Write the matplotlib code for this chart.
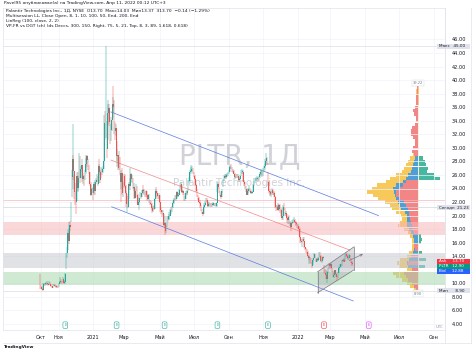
import numpy as np
import pandas as pd
import matplotlib.pyplot as plt
from matplotlib.patches import Polygon, Rectangle

W, H = 474, 351

# PLTR daily, 30 Sep 2020 .. 8 Apr 2022 (open = previous close)
first_open = 10.00
closes = [9.50,
          9.46, 9.20, 9.03, 9.90, 9.69, 9.93, 10.00, 10.02, 9.85, 9.72, 10.11, 9.88, 9.60, 9.55, 9.33, 9.76, 9.77, 9.57, 9.58, 9.42, 9.50, 9.44,
          9.94, 10.14, 10.42, 10.28, 10.11, 10.62, 10.00, 10.15, 11.39, 14.10, 14.50, 17.40, 16.25, 18.67, 18.36, 21.59, 25.67, 28.40, 26.54, 23.45,
          23.21, 22.07, 25.85, 24.05, 25.56, 28.00, 25.51, 26.87, 27.51, 25.38, 25.82, 24.87, 26.40, 27.63, 28.81, 28.25, 27.20, 26.40, 24.71, 23.00, 23.92, 23.55,
          23.37, 24.60, 23.60, 25.00, 25.20, 25.60, 24.60, 27.30, 26.40, 25.20, 26.70, 26.40, 26.90, 28.00, 33.60, 32.30, 39.00, 29.90, 35.20,
          35.90, 33.80, 30.90, 32.60, 34.10, 36.40, 36.10, 33.20, 32.50, 32.90, 28.80, 29.00, 27.00, 29.00, 26.30, 25.00, 26.30, 23.30, 23.90,
          25.90, 24.40, 23.40, 21.70, 22.50, 21.30, 24.60, 24.30, 26.10, 25.40, 25.50, 24.10, 24.20, 22.60, 23.70, 24.30, 23.00, 21.60, 22.00, 22.60, 23.20, 22.80, 23.30,
          23.80, 23.70, 23.60, 22.90, 23.60, 23.00, 22.40, 23.00, 21.90, 21.90, 21.70, 21.10, 20.70, 21.20, 21.00, 22.40, 23.70, 23.40, 22.90, 22.60, 23.00,
          22.00, 20.90, 20.60, 20.40, 20.40, 18.60, 18.90, 17.80, 18.10, 19.80, 19.50, 19.90, 20.00, 20.80, 20.50, 21.20, 21.80, 22.30, 22.30, 22.80,
          22.50, 23.50, 22.90, 23.10, 23.80, 24.00, 24.60, 23.50, 23.60, 23.30, 22.30, 22.50, 23.40, 23.30, 23.60, 25.00, 25.10, 26.40, 26.60, 26.90, 26.90, 26.40,
          25.90, 25.40, 24.50, 23.70, 23.50, 22.60, 22.00, 21.80, 21.40, 20.80, 20.50, 20.30, 21.30, 21.60, 21.90, 22.40, 22.30, 21.40, 21.70, 21.70, 21.60,
          21.50, 21.60, 21.60, 21.80, 21.60, 21.80, 21.40, 21.80, 24.70, 24.20, 23.60, 23.10, 22.70, 23.60, 23.70, 25.20, 25.60, 25.80, 25.70, 26.00, 26.00, 26.30,
          26.50, 27.10, 27.20, 27.10, 26.60, 26.60, 26.20, 25.70, 25.70, 26.00, 25.80, 25.90, 25.20, 25.40, 25.90, 26.50, 26.50, 26.50, 25.00, 24.60, 24.00,
          24.00, 23.10, 23.60, 23.90, 24.00, 23.60, 23.40, 23.40, 23.50, 24.50, 24.90, 25.40, 25.40, 25.40, 25.60, 25.20, 25.70, 26.10, 26.40, 26.50, 25.90,
          26.80, 27.00, 27.30, 28.00, 28.50, 27.80, 25.00, 23.70, 23.50, 23.20, 23.20, 23.80, 23.30, 23.40, 22.80, 21.30, 21.20, 21.30, 20.90, 21.60, 21.00,
          20.50, 20.90, 19.60, 20.00, 21.30, 21.20, 20.20, 20.40, 19.60, 19.30, 19.80, 18.90, 18.90, 18.30, 18.90, 19.00, 19.20, 19.40, 19.00, 18.90, 18.70, 18.20,
          18.50, 18.00, 16.80, 16.30, 16.10, 16.40, 16.60, 16.30, 15.30, 15.10, 14.70, 14.60, 14.00, 13.80, 13.90, 13.20, 13.10, 12.60, 13.40, 13.70,
          14.40, 13.80, 13.20, 13.60, 13.40, 13.80, 14.50, 14.00, 13.30, 13.30, 13.90, 13.80, 11.90, 11.60, 11.30, 10.70, 11.70, 12.20, 12.80,
          12.50, 12.80, 12.20, 11.80, 11.00, 11.20, 11.90, 11.40, 11.00, 10.60, 11.60, 12.20, 12.40, 12.80, 12.50, 13.40, 13.30, 13.50, 13.20, 14.20, 14.40, 14.10, 13.70,
          13.80, 14.20, 13.60, 13.10, 13.00, 12.90]
highs = [11.41,
         9.80, 9.55, 9.35, 10.10, 10.05, 10.10, 10.25, 10.30, 10.10, 9.98, 10.30, 10.15, 9.95, 9.80, 9.60, 9.90, 9.95, 9.85, 9.75, 9.70, 9.65, 9.70,
         10.00, 10.40, 10.95, 10.60, 10.40, 11.00, 10.50, 10.30, 11.60, 14.50, 15.40, 18.00, 17.70, 19.00, 19.20, 22.00, 26.70, 33.50, 29.00, 26.00,
         24.80, 23.60, 26.50, 26.40, 25.80, 29.20, 28.80, 27.30, 28.40, 27.30, 26.30, 26.00, 26.80, 28.50, 29.00, 29.00, 28.30, 27.50, 26.50, 24.90, 24.50, 24.10,
         24.20, 24.90, 25.00, 25.30, 25.60, 26.20, 25.80, 27.60, 28.30, 26.70, 27.10, 27.00, 27.30, 28.50, 34.80, 35.50, 45.00, 34.00, 36.50,
         37.00, 36.50, 34.50, 33.50, 34.50, 37.50, 39.10, 37.00, 33.80, 33.50, 31.00, 29.80, 29.00, 29.50, 28.60, 25.80, 26.80, 27.00, 25.00,
         26.10, 26.20, 24.50, 23.60, 22.90, 23.20, 25.00, 25.60, 27.00, 26.30, 26.00, 25.60, 24.80, 24.10, 24.00, 24.70, 24.40, 23.20, 22.30, 22.80, 23.50, 23.30, 23.80,
         24.00, 24.50, 24.00, 23.70, 23.80, 23.70, 23.00, 23.20, 23.20, 22.30, 22.20, 21.80, 21.30, 21.40, 21.50, 22.60, 24.00, 24.20, 23.60, 23.00, 23.30,
         23.10, 22.00, 21.30, 20.80, 20.90, 20.20, 20.00, 18.90, 18.60, 19.90, 19.90, 20.50, 20.30, 21.00, 21.20, 21.40, 22.10, 22.50, 22.60, 23.10,
         23.10, 23.70, 23.40, 23.30, 24.00, 24.50, 24.90, 24.40, 23.90, 23.80, 23.30, 22.90, 23.60, 23.70, 23.80, 25.20, 25.70, 26.80, 27.20, 27.50, 27.30, 27.00,
         26.40, 26.00, 25.50, 24.60, 23.90, 23.00, 22.70, 22.30, 22.00, 21.50, 21.00, 20.60, 21.50, 21.80, 22.10, 22.60, 22.60, 22.20, 21.90, 22.00, 21.80,
         21.90, 21.80, 21.80, 22.00, 21.90, 21.90, 21.90, 22.00, 25.10, 24.90, 24.20, 23.60, 23.30, 23.70, 24.00, 25.40, 26.00, 26.10, 26.20, 26.20, 26.30, 26.50,
         26.80, 27.30, 27.50, 27.60, 27.20, 26.90, 26.80, 26.30, 25.90, 26.20, 26.20, 26.10, 25.60, 25.70, 26.00, 26.70, 26.90, 26.80, 26.40, 25.30, 24.90,
         24.30, 24.00, 23.90, 24.10, 24.30, 24.10, 23.80, 23.70, 23.70, 24.60, 25.10, 25.60, 25.70, 25.60, 25.90, 25.70, 25.90, 26.40, 26.70, 26.90, 26.60,
         27.00, 27.30, 27.60, 28.30, 29.30, 28.60, 26.50, 25.10, 24.00, 23.70, 23.60, 24.10, 23.90, 23.70, 23.50, 22.90, 21.60, 21.50, 21.40, 21.90, 21.70,
         21.70, 21.00, 21.10, 20.30, 21.50, 21.80, 21.10, 20.70, 20.30, 19.70, 19.90, 20.10, 19.20, 18.80, 19.00, 19.40, 19.50, 19.80, 19.50, 19.20, 19.00, 18.80,
         18.70, 18.50, 18.10, 16.90, 16.50, 16.50, 16.80, 16.90, 16.30, 15.40, 15.20, 15.00, 14.80, 14.20, 14.10, 13.90, 13.80, 13.20, 13.50, 13.80,
         14.50, 14.40, 13.70, 13.80, 13.70, 13.90, 14.60, 14.60, 14.20, 13.50, 13.90, 14.00, 12.70, 12.10, 11.90, 11.40, 11.80, 12.30, 13.00,
         12.90, 13.00, 12.90, 12.30, 11.80, 11.50, 12.00, 11.90, 11.50, 11.10, 11.70, 12.30, 12.60, 12.90, 12.90, 13.50, 13.60, 13.80, 13.60, 14.30, 14.60, 14.50, 14.20,
         13.90, 14.30, 14.20, 13.70, 13.30, 13.10]
lows = [9.11,
        9.20, 8.95, 8.90, 9.05, 9.55, 9.60, 9.80, 9.85, 9.70, 9.60, 9.70, 9.80, 9.55, 9.40, 9.25, 9.35, 9.60, 9.50, 9.40, 9.35, 9.30, 9.30,
        9.50, 9.90, 10.10, 10.10, 9.90, 10.20, 9.90, 9.95, 10.20, 12.10, 13.70, 14.90, 15.80, 16.60, 17.80, 19.10, 22.70, 24.00, 25.20, 22.50,
        21.60, 20.20, 22.10, 23.50, 23.60, 25.50, 24.80, 25.50, 26.40, 25.00, 24.60, 24.40, 25.20, 26.20, 26.50, 27.20, 26.80, 26.20, 24.30, 22.90, 23.10, 23.30,
        22.30, 23.10, 23.00, 23.80, 24.60, 25.00, 24.30, 24.80, 26.00, 24.80, 25.50, 26.00, 26.30, 26.90, 28.50, 31.10, 31.50, 28.50, 31.20,
        33.50, 33.20, 30.50, 31.00, 32.50, 34.40, 35.10, 32.00, 31.20, 31.80, 28.00, 27.20, 26.80, 26.80, 26.00, 22.00, 23.90, 23.10, 22.70,
        24.10, 24.20, 23.20, 21.30, 20.50, 21.10, 22.50, 23.80, 24.70, 25.00, 24.80, 24.00, 23.60, 22.40, 22.50, 23.60, 22.80, 21.50, 20.90, 21.90, 22.80, 22.50, 22.70,
        23.20, 23.40, 23.00, 22.70, 22.80, 22.80, 22.20, 22.30, 21.80, 21.50, 21.50, 20.90, 20.40, 20.60, 20.90, 21.00, 22.40, 23.20, 22.80, 22.40, 22.50,
        21.90, 20.60, 20.30, 19.80, 20.10, 18.50, 18.10, 17.10, 17.50, 18.30, 19.10, 19.30, 19.40, 20.00, 20.30, 20.60, 21.10, 21.70, 22.00, 22.30,
        22.20, 22.50, 22.70, 22.80, 23.10, 23.60, 24.00, 23.40, 23.30, 23.10, 22.20, 22.10, 22.50, 23.00, 23.10, 23.60, 24.80, 25.00, 26.10, 26.40, 26.50, 26.20,
        25.70, 25.20, 24.30, 23.50, 22.80, 22.30, 21.90, 21.70, 21.10, 20.70, 20.30, 19.90, 20.20, 21.10, 21.40, 21.80, 22.00, 21.20, 21.20, 21.40, 21.30,
        21.30, 21.30, 21.40, 21.50, 21.40, 21.40, 21.20, 21.30, 23.50, 23.90, 23.40, 22.90, 22.50, 22.80, 23.40, 24.20, 25.10, 25.40, 25.40, 25.60, 25.70, 25.90,
        26.10, 26.50, 26.90, 26.90, 26.40, 26.30, 26.10, 25.60, 25.40, 25.50, 25.60, 25.60, 24.90, 25.00, 25.30, 25.80, 26.20, 26.10, 24.90, 24.40, 23.90,
        23.50, 23.00, 23.00, 23.30, 23.70, 23.50, 23.20, 23.20, 23.30, 23.70, 24.40, 24.80, 25.10, 25.10, 25.30, 25.00, 25.20, 25.60, 25.90, 26.00, 25.70,
        25.80, 26.40, 26.70, 27.20, 27.80, 27.40, 24.30, 23.40, 23.00, 22.90, 22.80, 23.10, 23.10, 23.00, 22.70, 21.10, 20.70, 20.90, 20.70, 20.80, 20.70,
        20.40, 19.90, 19.30, 19.30, 20.30, 20.80, 20.00, 19.90, 19.50, 18.90, 18.80, 18.80, 18.50, 17.80, 18.50, 18.70, 18.90, 18.90, 18.90, 18.60, 18.50, 18.10,
        18.00, 17.90, 16.70, 16.00, 15.90, 15.40, 16.10, 16.20, 15.20, 14.90, 14.50, 14.40, 13.90, 13.50, 12.80, 13.00, 12.90, 12.30, 12.70, 13.10,
        13.70, 13.70, 13.10, 13.10, 13.30, 13.30, 13.80, 13.90, 13.20, 13.00, 13.30, 13.50, 11.50, 11.40, 11.20, 10.60, 10.10, 11.60, 12.10,
        12.20, 12.40, 12.10, 11.70, 11.00, 10.80, 11.40, 11.30, 10.90, 10.40, 10.80, 11.60, 12.00, 12.20, 12.40, 12.60, 13.10, 13.20, 13.10, 13.30, 13.90, 13.80, 13.60,
        13.40, 13.70, 13.50, 13.00, 12.70, 12.60]

holidays = ['2020-11-26', '2020-12-25', '2021-01-01', '2021-01-18', '2021-02-15', '2021-04-02',
            '2021-05-31', '2021-07-05', '2021-09-06', '2021-11-25', '2021-12-24', '2022-01-17',
            '2022-02-21', '2022-04-15', '2022-05-30', '2022-06-20', '2022-07-04', '2022-09-05']

# time axis labels (first trading day of the month)
month_ticks = ['2020-10', '2020-11', '2021-01', '2021-03', '2021-05', '2021-07', '2021-09', '2021-11',
               '2022-01', '2022-03', '2022-05', '2022-07', '2022-09']
month_labels = ['Окт', 'Ноя', '2021', 'Мар', 'Май', 'Июл', 'Сен', 'Ноя', '2022', 'Мар', 'Май', 'Июл', 'Сен']

# earnings dates
earn_dates = ['2020-11-12', '2021-02-16', '2021-05-11', '2021-08-12', '2021-11-09', '2022-02-17', '2022-05-09']
earn_colors = ['#26a69a'] * 5 + ['#f23645', '#e040fb']

# zones (price bands)
zones = [(17.1, 19.0, '#f7b7b8'), (12.3, 14.5, '#c9cbd1'), (9.7, 11.7, '#a8d8ad')]

# trend channel (date, price)
chan_upper = [('2021-02-04', 35.3), ('2022-05-25', 20.0)]
chan_mid = [('2021-02-04', 28.2), ('2022-04-05', 14.9)]
chan_lower = [('2021-02-05', 21.3), ('2022-04-11', 7.4)]
# small rising channel
small_upper = [('2022-02-07', 11.7), ('2022-04-12', 15.4)]
small_lower = [('2022-02-07', 8.6), ('2022-04-12', 12.0)]
small_arrow = [('2022-03-30', 13.2), ('2022-05-03', 14.5)]

# volume profile rows, 45.0 down to 9.0 step 0.5
vp_prices = [45.0 - 0.5 * i for i in range(73)]
vp_total = [0, 0, 0, 0, 0, 0, 0, 0, 0, 0, 0,
            0, 1.5, 2, 2, 2, 2, 2, 2, 2.5, 2.5, 2, 2, 2.5, 3, 3, 3, 3, 2.5, 2.5, 3,
            4, 5, 8, 10, 12, 14, 16, 22, 28, 32, 41, 46, 51, 45, 40, 33, 28, 26, 22, 17,
            16, 18, 20, 14, 10, 8, 6, 6, 6, 6, 9, 11, 18, 21, 19, 11, 25, 22, 16, 11,
            8, 4]
vp_blue = [0, 0, 0, 0, 0, 0, 0, 0, 0, 0, 0,
           0, 0, 0.5, 0.5, 0.5, 0.5, 0.5, 0.5, 1, 1, 0.5, 0.5, 1, 1, 1, 1, 1, 1, 1, 1,
           1.5, 2, 3, 4, 5, 6, 7, 10, 12, 15, 22, 25, 24, 23, 22, 20, 18, 17, 13, 11,
           11, 11, 11, 9, 7, 5, 4, 4, 4, 4, 5, 5, 9, 11, 10, 6, 11, 11, 9, 6,
           4, 2]
vp_delta = [0, 0, 0, 0, 0, 0, 0, 0, 0, 0, 0,
            0, -1, -1.5, -1.5, -2, -2, -2, -3, -5, -4, -2, -2, -3, -6, -7, -7, -5, -3, -3, -5,
            -6, -4, 5, 7, 8, 10, 9, 16, 22, -12, -15, -18, -22, -22, -18, -14, -12, -10, -9, -9,
            -8, -7, -6, -5, -4, 3, 4, 3, -4, -3, 4, -7, 8, -10, 7, -6, -14, -12, -10, -6,
            -4, -2]

price_ticks = [p for p in range(4, 48, 2) if p != 12]

x0_px, dx_px = 40.1, 0.8135      # bar 0 position and bar spacing in pixels
y4_px, ppd = 324.0, 6.775        # 4.00 position and pixels per dollar
pane = (3, 8, 445, 330)          # left, top, right, bottom in pixels

dates = pd.bdate_range('2020-09-30', '2022-10-31')
dates = dates[~dates.isin(pd.to_datetime(holidays))]
n = len(closes)
opens = [first_open] + closes[:-1]


def di(d):
    return dates.searchsorted(pd.Timestamp(d))


def fig_rect(l, t, r, b):
    return [l / W, 1 - b / H, (r - l) / W, (b - t) / H]


fig = plt.figure(figsize=(W / 100, H / 100), dpi=100)
fig.patch.set_facecolor('white')

xlim = ((pane[0] - x0_px) / dx_px, (pane[2] - x0_px) / dx_px)
ylim = (4 - (pane[3] - y4_px) / ppd, 4 + (y4_px - pane[1]) / ppd)

# volume profile sits under the main pane so the zones tint it
vp_ax = fig.add_axes(fig_rect(340, pane[1], pane[2], pane[3]), zorder=0)
vp_ax.set_xlim(-78, 27)
vp_ax.set_ylim(*ylim)
vp_ax.axis('off')
vp_ax.barh(vp_prices, [-v for v in vp_total], height=0.48, color='#f7c85a', lw=0)
vp_ax.barh(vp_prices, [-v for v in vp_blue], height=0.48, color='#4f9fd6', lw=0)
vp_ax.barh(vp_prices, vp_delta, height=0.48, lw=0,
           color=['#46b8a0' if v > 0 else '#f28585' for v in vp_delta])
vp_ax.plot([0, 0], [9.0, 39.2], color='#f3c070', lw=0.6)
vp_ax.axvline(0, ymin=0.1, ymax=0.7, color='white', lw=0.5)

ax = fig.add_axes(fig_rect(*pane), zorder=1)
ax.set_facecolor('none')
ax.set_xlim(*xlim)
ax.set_ylim(*ylim)

for lo, hi, c in zones:
    ax.axhspan(lo, hi, color=c, alpha=0.55, lw=0, zorder=1)
ax.axhline(45.0, color='#d1d4dc', lw=0.4, zorder=1)
ax.axhline(21.23, color='#d1d4dc', lw=0.5, zorder=1)
ax.axhline(22.3, color='#f7b7b8', lw=0.5, zorder=1)
ax.axhline(8.90, color='#d1d4dc', lw=0.4, zorder=1)

# watermark
ax.text(0.535, 0.54, 'PLTR, 1Д', transform=ax.transAxes, ha='center', va='center',
        fontsize=20, color='#b2b5be', alpha=0.6, zorder=1)
ax.text(0.535, 0.455, 'Palantir Technologies Inc.', transform=ax.transAxes, ha='center', va='center',
        fontsize=7.5, color='#b2b5be', alpha=0.6, zorder=1)

# candles
xs = np.arange(n)
up = np.array(closes) >= np.array(opens)
col = np.where(up, '#26a69a', '#ef5350')
ax.vlines(xs, lows, highs, colors=col, lw=0.35, zorder=3)
body_lo = np.minimum(opens, closes)
body_h = np.maximum(np.abs(np.array(closes) - np.array(opens)), 0.05)
ax.bar(xs, body_h, bottom=body_lo, width=0.75, color=col, lw=0, zorder=3)

# trend channel
for line, c in [(chan_upper, '#5b7be0'), (chan_mid, '#f08a8a'), (chan_lower, '#5b7be0')]:
    ax.plot([di(d) for d, p in line], [p for d, p in line], color=c, lw=0.5, zorder=2)

# small rising channel
poly = [(di(small_upper[0][0]), small_upper[0][1]), (di(small_upper[1][0]), small_upper[1][1]),
        (di(small_lower[1][0]), small_lower[1][1]), (di(small_lower[0][0]), small_lower[0][1])]
ax.add_patch(Polygon(poly, closed=True, facecolor='#9598a1', alpha=0.3, edgecolor='none', zorder=2))
for line in (small_upper, small_lower):
    ax.plot([di(d) for d, p in line], [p for d, p in line], color='#787b86', lw=0.5, zorder=4)
ax.plot([poly[0][0], poly[3][0]], [poly[0][1], poly[3][1]], color='#787b86', lw=0.5, zorder=4)
ax.plot([poly[1][0], poly[2][0]], [poly[1][1], poly[2][1]], color='#787b86', lw=0.5, zorder=4)
ax.annotate('', xy=(di(small_arrow[1][0]), small_arrow[1][1]),
            xytext=(di(small_arrow[0][0]), small_arrow[0][1]),
            arrowprops=dict(arrowstyle='->', color='#787b86', lw=0.5, mutation_scale=4), zorder=4)

# grid and axes
tick_idx = [di(m + '-01') for m in month_ticks]
ax.set_xticks(tick_idx)
ax.set_xticklabels(month_labels, fontsize=3.6, color='#131722')
ax.set_yticks(price_ticks)
ax.set_yticklabels(['%.2f' % p for p in price_ticks], fontsize=3.6, color='#131722')
ax.yaxis.tick_right()
ax.tick_params(length=0, pad=5)
ax.tick_params(axis='x', pad=3.5)
ax.grid(True, color='#f0f3fa', lw=0.5, zorder=0)
ax.set_axisbelow(True)
for s in ax.spines.values():
    s.set_color('#e0e3eb')
    s.set_linewidth(0.5)

# earnings markers on the time axis
for d, c in zip(earn_dates, earn_colors):
    ax.annotate('E', xy=(di(d), ylim[0]), xycoords='data', xytext=(0, 3.5), textcoords='offset points',
                ha='center', va='center', fontsize=2.6, color=c, annotation_clip=False,
                bbox=dict(boxstyle='round,pad=0.35', fc='white', ec=c, lw=0.4), zorder=5)


# price axis badges
def badge(y_px, text, fc, tc='white', x_left=437):
    fig.patches.append(Rectangle((x_left / W, 1 - (y_px + 2.4) / H), (470 - x_left) / W, 4.8 / H,
                                 transform=fig.transFigure, fc=fc, ec='none', zorder=5))
    fig.text((x_left + 2) / W, 1 - y_px / H, text, fontsize=3.0, color=tc, va='center', ha='left', zorder=6)


badge(y4_px - (45.0 - 4) * ppd, 'Макс   45.00', '#e0e3eb', '#131722')
badge(y4_px - (21.23 - 4) * ppd, 'Сегодн  21.23', '#e0e3eb', '#131722')
badge(y4_px - (8.90 - 4) * ppd, 'Мин      8.90', '#e0e3eb', '#131722')
badge(261.5, 'Ask     13.70', '#f23645')
badge(266.3, 'PLTR   12.90', '#089981')
badge(271.1, 'Bid     12.88', '#2962ff')

vp_ax.text(0, 39.6, '39.22', fontsize=2.6, ha='center', va='center', color='#787b86',
           bbox=dict(boxstyle='square,pad=0.3', fc='white', ec='#d1d4dc', lw=0.3))
vp_ax.text(0, 8.5, '8.90', fontsize=2.6, ha='center', va='center', color='#787b86',
           bbox=dict(boxstyle='square,pad=0.3', fc='white', ec='#d1d4dc', lw=0.3))

# outer frame lines
fig.add_artist(plt.Line2D([3 / W, 471 / W], [1 - 343 / H, 1 - 343 / H], color='#e0e3eb', lw=0.5))
fig.add_artist(plt.Line2D([445 / W, 445 / W], [1 - 343 / H, 1 - 8 / H], color='#e0e3eb', lw=0.5))
fig.add_artist(plt.Line2D([471 / W, 471 / W], [1 - 343 / H, 1 - 8 / H], color='#e0e3eb', lw=0.5))
fig.text(440 / W, 1 - 327 / H, 'UTC', fontsize=2.8, color='#9598a1', va='center', ha='center')

# header texts
fig.text(4 / W, 1 - 3 / H, 'Pavel95 опубликовал(а) на TradingView.com, Апр 11, 2022 00:12 UTC+3',
         fontsize=3.2, color='#131722', va='center')
legend = ['Palantir Technologies Inc., 1Д, NYSE  О13.70  Макс14.03  Мин13.37  З13.70  −0.14 (−1.29%)',
          'Multisession LL, Close Open, 8, 1, 10, 100, 50, End, 200, End',
          'LinReg (100, close, 2, 2)',
          'VP-FR vs DGT (ch) (ds Deccs, 300, 150, Right, 75, 5, 21, Top, 8, 3, 89, 1.618, 0.618)']
for i, t in enumerate(legend):
    fig.text(6 / W, 1 - (11 + 5 * i) / H, t, fontsize=3.2, color='#131722', va='center')
fig.text(4 / W, 1 - 347 / H, 'TradingView', fontsize=3.2, color='#131722', va='center', weight='bold')

fig.savefig('out.png', dpi=100, facecolor='white')
